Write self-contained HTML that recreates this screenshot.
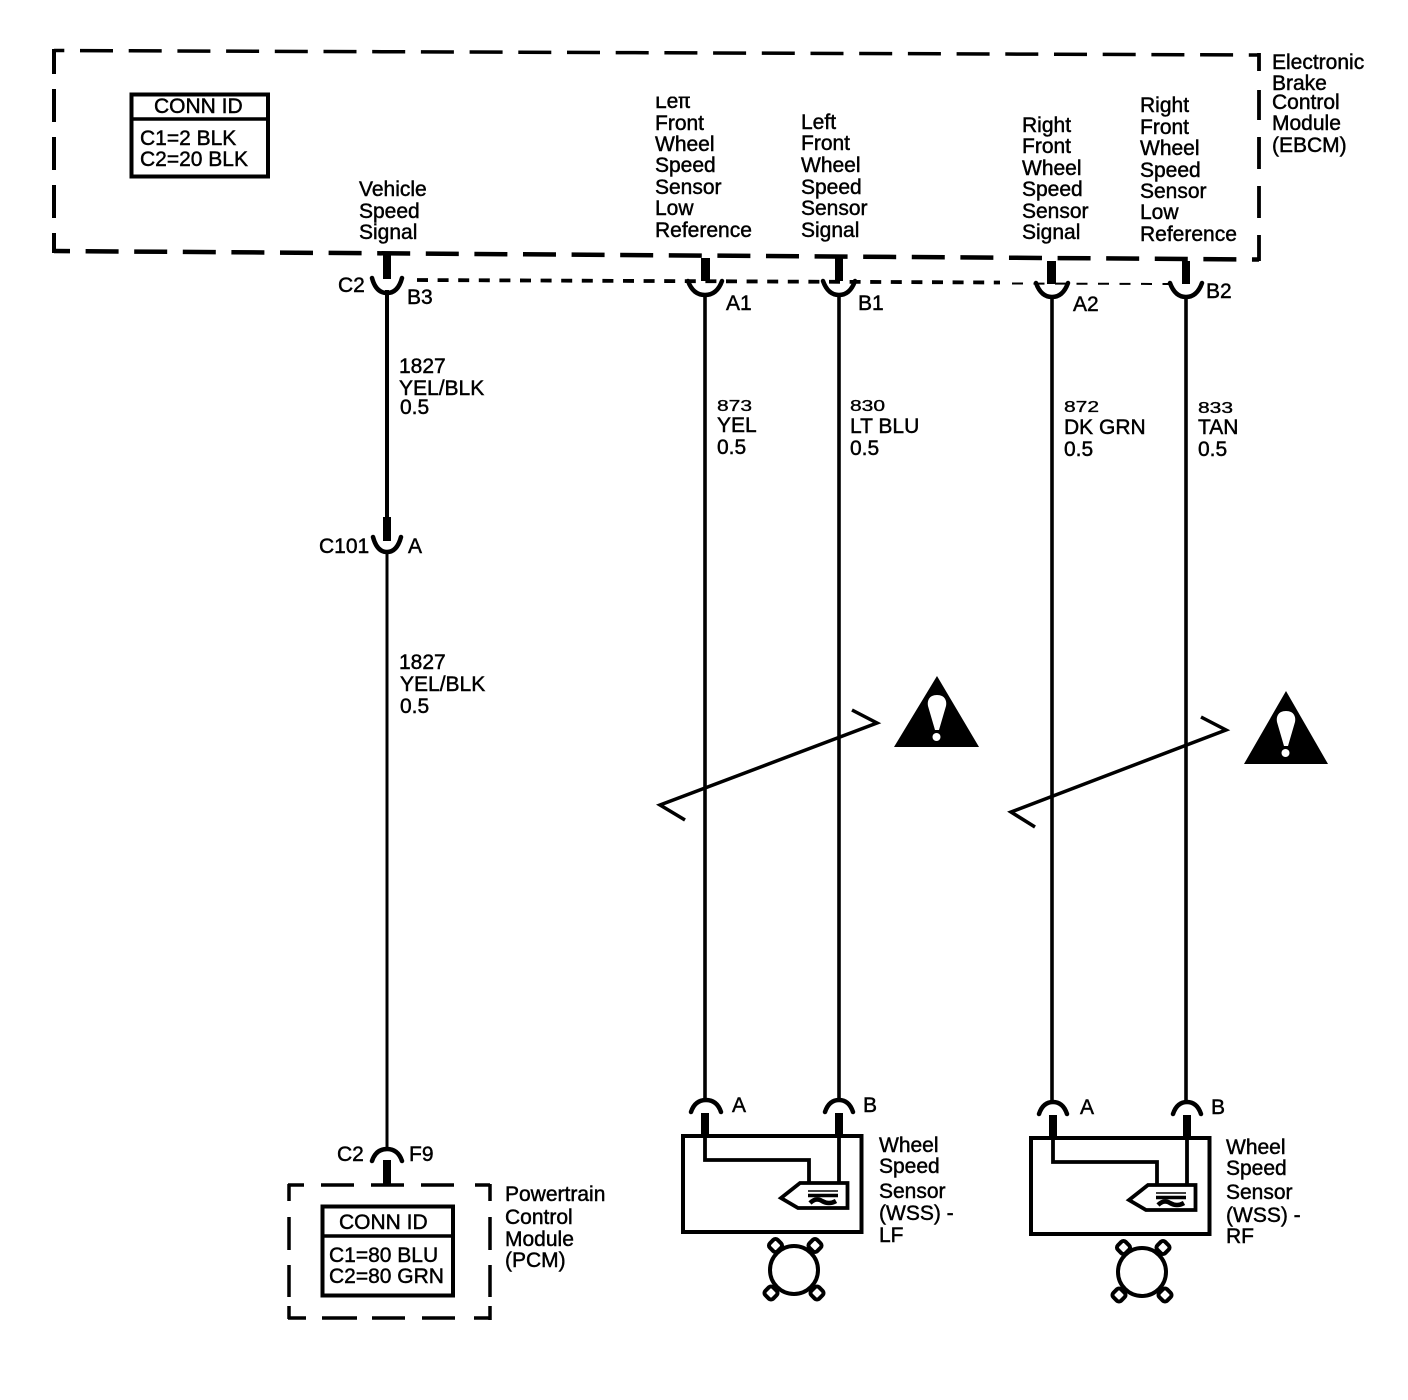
<!DOCTYPE html>
<html><head><meta charset="utf-8"><style>
html,body{margin:0;padding:0;background:#fff}
svg{display:block}
text{font-family:"Liberation Sans",sans-serif;font-size:21px;fill:#000;stroke:#000;stroke-width:.45}
</style></head><body>
<svg width="1408" height="1400" viewBox="0 0 1408 1400" xmlns="http://www.w3.org/2000/svg">
<rect width="1408" height="1400" fill="#fff"/>
<g fill="none" stroke="#000">
<!-- EBCM box -->
<line x1="54" y1="50.5" x2="1260" y2="55" stroke-width="3.5" stroke-dasharray="33 15.7" stroke-dashoffset="22.7"/>
<line x1="54" y1="49" x2="54" y2="253" stroke-width="4" stroke-dasharray="33 15" stroke-dashoffset="8"/>
<line x1="54" y1="251" x2="1259" y2="259.5" stroke-width="4.5" stroke-dasharray="33 15.6" stroke-dashoffset="17"/>
<line x1="1259" y1="53" x2="1259" y2="261" stroke-width="3.8" stroke-dasharray="18 19 30 17 32 17 32 17 30"/>
<!-- shield -->
<line x1="417" y1="280" x2="1000" y2="282.500" stroke-width="3.8" stroke-dasharray="11 9.6"/>
<line x1="1012" y1="283.500" x2="1170" y2="284" stroke-width="2" stroke-dasharray="11 10.5"/>
<!-- wires -->
<line x1="387" y1="290" x2="387" y2="538" stroke-width="4"/>
<line x1="387" y1="550" x2="387" y2="1150" stroke-width="3"/>
<line x1="705" y1="294" x2="705" y2="1100" stroke-width="3.6"/>
<line x1="839" y1="294" x2="839" y2="1100" stroke-width="3.6"/>
<line x1="1052" y1="296" x2="1052" y2="1102" stroke-width="3.6"/>
<line x1="1186" y1="296" x2="1186" y2="1102" stroke-width="3.6"/>
<!-- connector arcs -->
<g stroke-width="4.500" stroke-linecap="round">
<path d="M372 278 Q376 293 387 293 Q398 293 402 278"/>
<path d="M688 281 Q693 295 705 295 Q717 295 722 281"/>
<path d="M823 281 Q828 295 839 295 Q850 295 855 281"/>
<path d="M1036 283 Q1041 297 1052 297 Q1063 297 1068 283"/>
<path d="M1170 283 Q1175 297 1186 297 Q1197 297 1202 283"/>
<path d="M373 537 Q377 552 387 552 Q397 552 401 537"/>
<path d="M372 1161 Q376 1149 387 1149 Q398 1149 402 1161"/>
<path d="M691 1112 Q695 1100 706 1100 Q717 1100 721 1112"/>
<path d="M825 1112 Q829 1100 839 1100 Q849 1100 853 1112"/>
<path d="M1039 1114 Q1043 1102 1053 1102 Q1063 1102 1067 1114"/>
<path d="M1173 1114 Q1177 1102 1187 1102 Q1197 1102 1201 1114"/>
</g>
<!-- notch lines -->
<polyline points="852,710 877,723 660,805 685,820" stroke-width="3.5"/>
<polyline points="1201,717 1226,730 1011,812 1035,827" stroke-width="3.5"/>
<!-- PCM box -->
<line x1="288" y1="1185" x2="490" y2="1185" stroke-width="3.5" stroke-dasharray="16 17 33 17 33 17 33 21 15"/>
<line x1="288" y1="1318" x2="490" y2="1318" stroke-width="3.5" stroke-dasharray="18 16 35 15 33 17 33 19 16"/>
<line x1="289" y1="1184" x2="289" y2="1319" stroke-width="3.5" stroke-dasharray="17 16 33 15 32 9 13"/>
<line x1="490" y1="1184" x2="490" y2="1320" stroke-width="3.5" stroke-dasharray="17 16 33 15 32 9 14"/>
<!-- CONN ID -->
<rect x="131.500" y="94.500" width="136.500" height="82" stroke-width="4"/>
<line x1="131" y1="119" x2="268" y2="119" stroke-width="3.500"/>
<rect x="322.500" y="1206.500" width="130.500" height="89" stroke-width="4"/>
<line x1="322" y1="1236" x2="453" y2="1236" stroke-width="3.500"/>
<!-- LF sensor -->
<rect x="683" y="1136" width="178.500" height="96" stroke-width="4"/>
<polyline points="705,1135 705,1160 809,1160 809,1183" stroke-width="3.800"/>
<line x1="839" y1="1135" x2="839" y2="1183" stroke-width="3.800"/>
<polygon points="847.500,1183 800,1183 781,1198 798,1208 847.500,1208" stroke-width="3.800"/>
<line x1="808" y1="1191" x2="838" y2="1191" stroke-width="1.500"/>
<line x1="808" y1="1195.500" x2="838" y2="1195.500" stroke-width="3.500"/>
<path d="M810 1203 Q816 1197 822 1201 Q829 1205 836 1201" stroke-width="4.500"/>
<g stroke-width="4" fill="#fff">
<rect x="770" y="1240" width="11" height="11" rx="3" transform="rotate(45 775.500 1245.500)"/>
<rect x="809.500" y="1240" width="11" height="11" rx="3" transform="rotate(45 815 1245.500)"/>
<rect x="765.500" y="1287.500" width="11" height="11" rx="3" transform="rotate(45 771 1293)"/>
<rect x="811.500" y="1287.500" width="11" height="11" rx="3" transform="rotate(45 817 1293)"/>
</g>
<circle cx="794" cy="1270" r="24" stroke-width="4" fill="#fff"/>
<!-- RF sensor -->
<g transform="translate(348 2)">
<rect x="683" y="1136" width="178.500" height="96" stroke-width="4"/>
<polyline points="705,1135 705,1160 809,1160 809,1183" stroke-width="3.800"/>
<line x1="839" y1="1135" x2="839" y2="1183" stroke-width="3.800"/>
<polygon points="847.500,1183 800,1183 781,1198 798,1208 847.500,1208" stroke-width="3.800"/>
<line x1="808" y1="1191" x2="838" y2="1191" stroke-width="1.500"/>
<line x1="808" y1="1195.500" x2="838" y2="1195.500" stroke-width="3.500"/>
<path d="M810 1203 Q816 1197 822 1201 Q829 1205 836 1201" stroke-width="4.500"/>
<g stroke-width="4" fill="#fff">
<rect x="770" y="1240" width="11" height="11" rx="3" transform="rotate(45 775.500 1245.500)"/>
<rect x="809.500" y="1240" width="11" height="11" rx="3" transform="rotate(45 815 1245.500)"/>
<rect x="765.500" y="1287.500" width="11" height="11" rx="3" transform="rotate(45 771 1293)"/>
<rect x="811.500" y="1287.500" width="11" height="11" rx="3" transform="rotate(45 817 1293)"/>
</g>
<circle cx="794" cy="1270" r="24" stroke-width="4" fill="#fff"/>
</g>
</g>
<!-- stubs -->
<g fill="#000">
<rect x="383" y="252" width="8" height="27"/>
<rect x="701" y="258" width="9" height="23"/>
<rect x="835" y="258" width="8" height="23"/>
<rect x="1047" y="261" width="9" height="23"/>
<rect x="1182" y="261" width="8" height="23"/>
<rect x="383" y="517" width="8" height="24"/>
<rect x="383" y="1160" width="8" height="25"/>
<rect x="701" y="1113" width="8" height="23"/>
<rect x="835" y="1113" width="8" height="23"/>
<rect x="1049" y="1115" width="8" height="23"/>
<rect x="1183" y="1115" width="8" height="23"/>
<!-- warning triangles -->
<polygon points="937,676 894,747 979,747"/>
<polygon points="1286,691 1244,764 1328,764"/>
</g>
<g fill="#fff">
<path d="M937 695 C945 695 947 701 946 706 L939 730 L935 730 L928 706 C927 701 929 695 937 695Z"/>
<circle cx="936.500" cy="737" r="4"/>
<path d="M1286 711 C1294 711 1296 717 1295 722 L1288 746 L1284 746 L1277 722 C1276 717 1278 711 1286 711Z"/>
<circle cx="1285.500" cy="753" r="4"/>
</g>
<!-- text -->
<text x="154" y="113">CONN ID</text>
<text x="140" y="145">C1=2 BLK</text>
<text x="140" y="166">C2=20 BLK</text>
<text x="339" y="1229">CONN ID</text>
<text x="329" y="1262">C1=80 BLU</text>
<text x="329" y="1283">C2=80 GRN</text>

<text x="359" y="196">Vehicle</text>
<text x="359" y="218">Speed</text>
<text x="359" y="239">Signal</text>

<text x="655" y="108">Left</text>
<rect x="650" y="88" width="50" height="8.500" fill="#fff"/>
<text x="655" y="130">Front</text>
<text x="655" y="151">Wheel</text>
<text x="655" y="172">Speed</text>
<text x="655" y="194">Sensor</text>
<text x="655" y="215">Low</text>
<text x="655" y="237">Reference</text>

<text x="801" y="129">Left</text>
<text x="801" y="150">Front</text>
<text x="801" y="172">Wheel</text>
<text x="801" y="194">Speed</text>
<text x="801" y="215">Sensor</text>
<text x="801" y="237">Signal</text>

<text x="1022" y="132">Right</text>
<text x="1022" y="153">Front</text>
<text x="1022" y="175">Wheel</text>
<text x="1022" y="196">Speed</text>
<text x="1022" y="218">Sensor</text>
<text x="1022" y="239">Signal</text>

<text x="1140" y="112">Right</text>
<text x="1140" y="134">Front</text>
<text x="1140" y="155">Wheel</text>
<text x="1140" y="177">Speed</text>
<text x="1140" y="198">Sensor</text>
<text x="1140" y="219">Low</text>
<text x="1140" y="241">Reference</text>

<text x="1272" y="69">Electronic</text>
<text x="1272" y="90">Brake</text>
<text x="1272" y="109">Control</text>
<text x="1272" y="130">Module</text>
<text x="1272" y="152">(EBCM)</text>

<text x="338" y="292">C2</text>
<text x="407" y="304">B3</text>
<text x="726" y="310">A1</text>
<text x="858" y="310">B1</text>
<text x="1073" y="311">A2</text>
<text x="1206" y="298">B2</text>

<text x="399" y="373">1827</text>
<text x="399" y="395">YEL/BLK</text>
<text x="400" y="414">0.5</text>

<text transform="translate(717 411) scale(1 .75)">873</text>
<text x="717" y="432">YEL</text>
<text x="717" y="454">0.5</text>
<text transform="translate(850 411) scale(1 .75)">830</text>
<text x="850" y="433">LT BLU</text>
<text x="850" y="455">0.5</text>
<text transform="translate(1064 412) scale(1 .75)">872</text>
<text x="1064" y="434">DK GRN</text>
<text x="1064" y="456">0.5</text>
<text transform="translate(1198 413) scale(1 .75)">833</text>
<text x="1198" y="434">TAN</text>
<text x="1198" y="456">0.5</text>

<text x="319" y="553">C101</text>
<text x="408" y="553">A</text>
<text x="399" y="669">1827</text>
<text x="400" y="691">YEL/BLK</text>
<text x="400" y="713">0.5</text>

<text x="337" y="1161">C2</text>
<text x="409" y="1161">F9</text>
<text x="732" y="1112">A</text>
<text x="863" y="1112">B</text>
<text x="1080" y="1114">A</text>
<text x="1211" y="1114">B</text>

<text x="879" y="1152">Wheel</text>
<text x="879" y="1173">Speed</text>
<text x="879" y="1198">Sensor</text>
<text x="879" y="1220">(WSS) -</text>
<text x="879" y="1242">LF</text>
<text x="1226" y="1154">Wheel</text>
<text x="1226" y="1175">Speed</text>
<text x="1226" y="1199">Sensor</text>
<text x="1226" y="1222">(WSS) -</text>
<text x="1226" y="1243">RF</text>

<text x="505" y="1201">Powertrain</text>
<text x="505" y="1224">Control</text>
<text x="505" y="1246">Module</text>
<text x="505" y="1267">(PCM)</text>
</svg>
</body></html>
